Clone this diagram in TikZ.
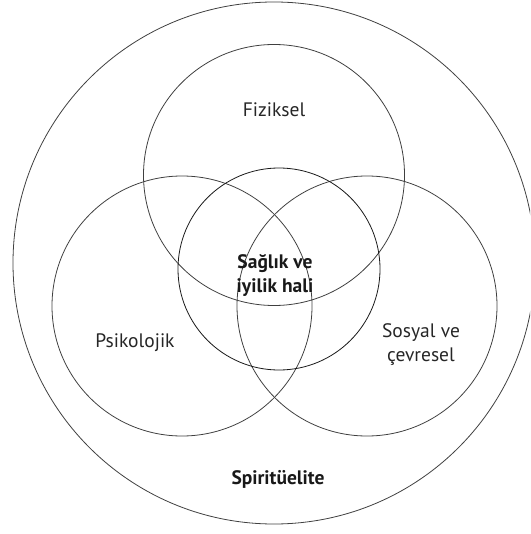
\documentclass[tikz,border=0pt]{standalone}
\usepackage{fontspec}
\setmainfont{PT Sans}
\begin{document}
\begin{tikzpicture}[x=1pt,y=-1pt,
  ring/.style={circle,draw=black!75,line width=0.8pt,inner sep=0pt,minimum size=#1},
  lbl/.style={font=\fontsize{19.5}{24}\selectfont,color=black!85,align=center,inner sep=0pt},
  blbl/.style={lbl,font=\fontsize{19.5}{24}\selectfont\bfseries,color=black!90}]
\useasboundingbox (0,0) rectangle (530,534);
\clip (0,0) rectangle (530,534);
\node[ring=522pt] (outer) at (274,263) {};
\node[ring=261pt] (fiz) at (274,175) {};
\node[ring=260pt] (psi) at (182,306) {};
\node[ring=260pt] (sos) at (367,306) {};
\node[ring=202pt,draw=black!90] (sag) at (279,269) {};
\node[lbl] (tfiz) at (274,110) {Fiziksel};
\node[blbl] (tsag) at (275,275) {Sağlık ve\\iyilik hali};
\node[lbl] (tpsi) at (135,343) {Psikolojik};
\node[lbl] (tsos) at (421,345) {Sosyal ve\\çevresel};
\node[blbl] (tspi) at (278,479) {Spiritüelite};
\end{tikzpicture}
\end{document}
